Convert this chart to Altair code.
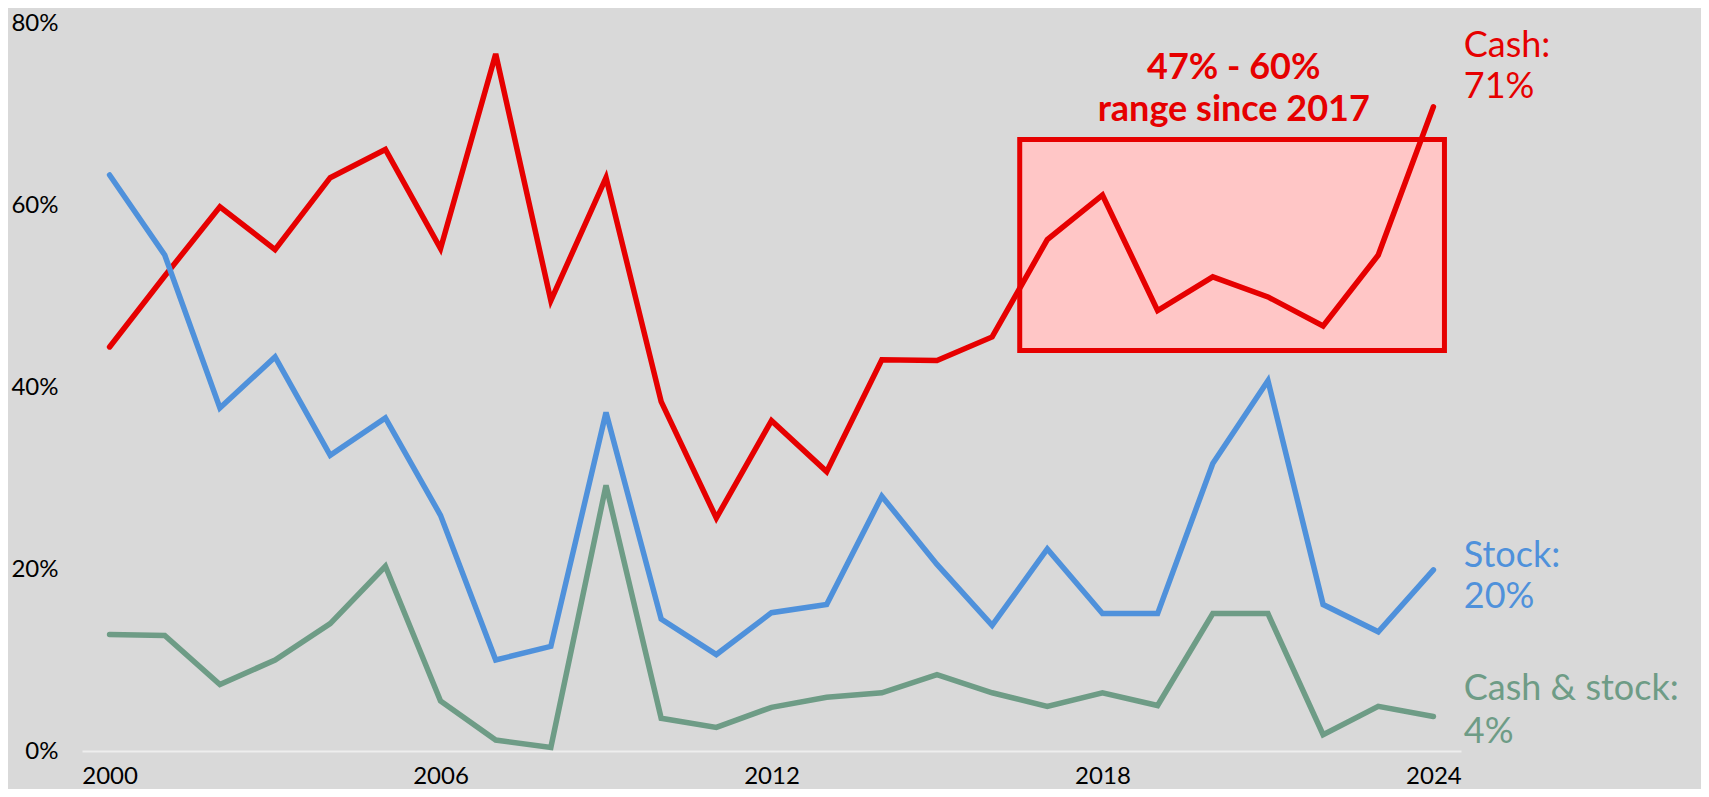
import altair as alt
import pandas as pd

years = list(range(2000, 2025))
cash = [44.4, 52.2, 59.8, 55.1, 63.0, 66.1, 55.2, 76.6, 49.5, 63.0, 38.4, 25.6, 36.3,
        30.7, 43.0, 42.9, 45.5, 56.2, 61.1, 48.4, 52.1, 49.9, 46.7, 54.5, 70.8]
stock = [63.3, 54.5, 37.7, 43.3, 32.5, 36.6, 25.9, 10.0, 11.5, 37.2, 14.5, 10.6, 15.2,
         16.1, 28.0, 20.5, 13.8, 22.2, 15.1, 15.1, 31.6, 40.7, 16.1, 13.1, 19.9]
cash_stock = [12.8, 12.7, 7.3, 10.0, 14.0, 20.3, 5.5, 1.2, 0.4, 29.2, 3.6, 2.6, 4.8,
              5.9, 6.4, 8.4, 6.4, 4.9, 6.4, 5.0, 15.1, 15.1, 1.8, 4.9, 3.8]

series_names = ["Cash", "Stock", "Cash & stock"]
series_colors = ["#E60000", "#4F91DB", "#6E9C86"]

x_ticks = [2000, 2006, 2012, 2018, 2024]
y_ticks = [0, 20, 40, 60, 80]

# highlight box (range since 2017)
box_x = [2016.5]
box_x2 = [2024.2]
box_y = [44.0]
box_y2 = [67.2]

# annotation text
ann_text = ["47% - 60%", "range since 2017"]
ann_x = [2020.38, 2020.38]
ann_y = [75.1, 70.4]

# end labels
lab_text = ["Cash:", "71%", "Stock:", "20%", "Cash & stock:", "4%"]
lab_series = ["Cash", "Cash", "Stock", "Stock", "Cash & stock", "Cash & stock"]
lab_y = [77.5, 73.0, 21.4, 16.9, 6.8, 2.1]
lab_x = [2024.55] * 6

rows = []
for name, vals in zip(series_names, [cash, stock, cash_stock]):
    for yr, v in zip(years, vals):
        rows.append({"year": yr, "value": v, "series": name})
df = pd.DataFrame(rows)

box_df = pd.DataFrame({"x": box_x, "x2": box_x2, "y": box_y, "y2": box_y2})
ann_df = pd.DataFrame({"x": ann_x, "y": ann_y, "text": ann_text})
lab_df = pd.DataFrame({"x": lab_x, "y": lab_y, "text": lab_text, "series": lab_series})

xscale = alt.Scale(domain=[1999.5, 2024.5], nice=False, zero=False)
yscale = alt.Scale(domain=[0, 80], nice=False)
cscale = alt.Scale(domain=series_names, range=series_colors)

xaxis = alt.Axis(values=x_ticks, format="d", title=None, grid=False, ticks=False,
                 domainColor="#EEEEEE", domainWidth=2, labelFontSize=24,
                 labelFont="Lato", labelColor="#000000", labelPadding=13)
yaxis = alt.Axis(values=y_ticks, labelExpr="datum.value + '%'", title=None, grid=False,
                 ticks=False, domain=False, labelFontSize=24, labelFont="Lato",
                 labelColor="#000000", labelPadding=24)

box = alt.Chart(box_df).mark_rect(fill="#FFC6C6", stroke="#E60000", strokeWidth=5).encode(
    x=alt.X("x:Q", scale=xscale, axis=xaxis),
    x2="x2:Q",
    y=alt.Y("y:Q", scale=yscale, axis=yaxis),
    y2="y2:Q",
)

lines = alt.Chart(df).mark_line(strokeWidth=5.5, strokeCap="round", strokeJoin="miter").encode(
    x=alt.X("year:Q", scale=xscale),
    y=alt.Y("value:Q", scale=yscale),
    color=alt.Color("series:N", scale=cscale, legend=None),
    order=alt.Order("year:Q"),
)

ann = alt.Chart(ann_df).mark_text(font="Lato", fontSize=36, fontWeight="bold",
                                  color="#E60000", align="center", baseline="middle").encode(
    x=alt.X("x:Q", scale=xscale),
    y=alt.Y("y:Q", scale=yscale),
    text="text:N",
)

labels = alt.Chart(lab_df).mark_text(font="Lato", fontSize=36, align="left",
                                     baseline="middle").encode(
    x=alt.X("x:Q", scale=xscale),
    y=alt.Y("y:Q", scale=yscale),
    text="text:N",
    color=alt.Color("series:N", scale=cscale, legend=None),
)

chart = alt.layer(box, lines, ann, labels).properties(
    width=1379,
    height=728,
    background="#D9D9D9",
    autosize=alt.AutoSizeParams(type="none"),
    padding={"left": 74, "top": 15, "right": 240, "bottom": 38},
).configure_view(stroke=None)

chart.save("out.html", embed_options={"renderer": "svg", "actions": False})
